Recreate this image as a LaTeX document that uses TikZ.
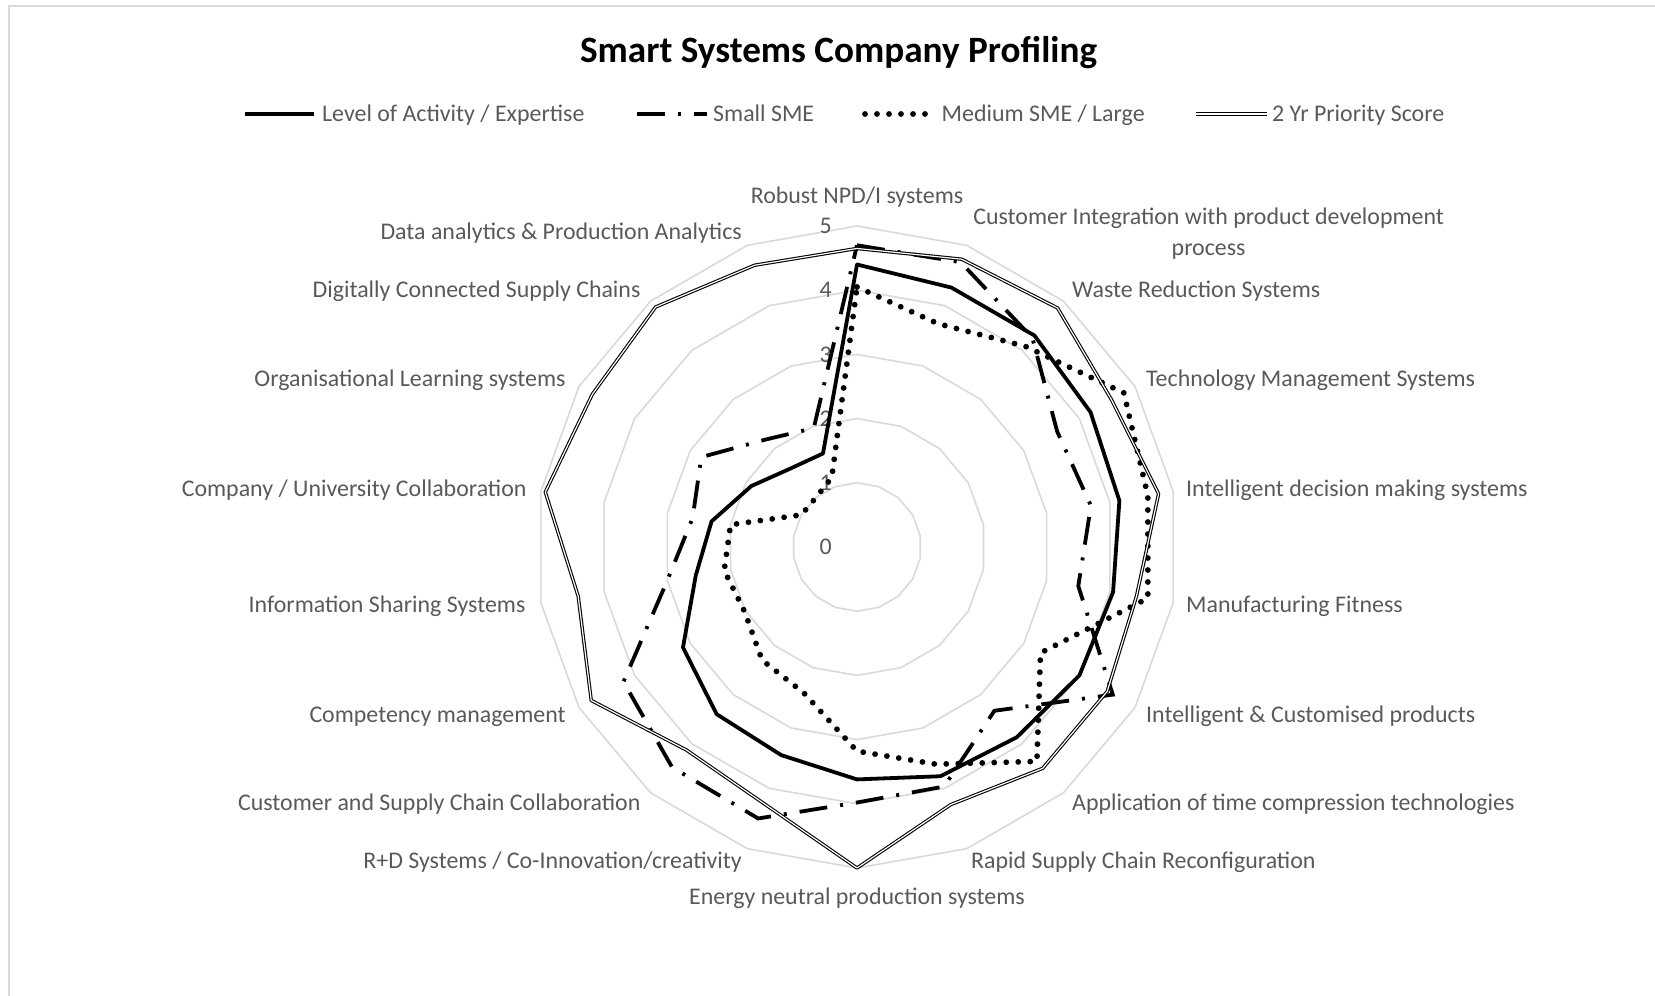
\documentclass[tikz,border=0pt]{standalone}
\usepackage{fontspec}
\setmainfont{Carlito}
\definecolor{gridgray}{HTML}{D9D9D9}
\definecolor{labelgray}{HTML}{595959}

\begin{document}
\begin{tikzpicture}[x=1pt,y=1pt,
        ring/.style={draw=gridgray,line width=1.6pt},
        activity/.style={draw=black,line width=3.8pt,line join=round},
        smallsme/.style={draw=black,line width=3.8pt,dash pattern=on 28pt off 13pt on 3pt off 13pt},
        mediumsme/.style={draw=black,line width=5.8pt,line cap=round,dash pattern=on 0pt off 12pt},
        priority/.style={draw=black,line width=1.1pt,double=white,double distance=1.2pt,line join=round}]

    \useasboundingbox (0,0) rectangle (1655,996);
    \draw[gridgray,line width=2pt] (9.3,0) -- (9.3,990) -- (1655,990);

    \node[anchor=base,inner sep=0pt,font=\bfseries\fontsize{37.2}{44}\selectfont] (title) at (838.6,933) {Smart Systems Company Profiling};

    % legend
    \begin{scope}[every node/.style={anchor=base west,inner sep=0pt,text=labelgray,font=\fontsize{23.9}{29}\selectfont}]
        \coordinate (l1a) at (245,882);  \coordinate (l1b) at (314,882);
        \coordinate (l2a) at (637,882);  \coordinate (l2b) at (707,882);
        \coordinate (l3a) at (865,882);  \coordinate (l3b) at (931,882);
        \coordinate (l4a) at (1196,882); \coordinate (l4b) at (1267,882);
        \node (t1) at (322,874.3)  {Level of Activity / Expertise};
        \node (t2) at (713,874.3)  {Small SME};
        \node (t3) at (941.5,874.3) {Medium SME / Large};
        \node (t4) at (1272,874.3) {2 Yr Priority Score};
    \end{scope}
    \path[activity]  (l1a) -- (l1b);
    \path[smallsme]  (l2a) -- (l2b);
    \path[mediumsme] (l3a) -- (l3b);
    \path[priority]  (l4a) -- (l4b);

    % axis labels
    \begin{scope}[every node/.style={inner sep=0pt,text=labelgray,font=\fontsize{23.9}{30.6}\selectfont}]
        \node[anchor=base] (c0) at (857,792) {Robust NPD/I systems};
        \node[anchor=base,align=center] (c1) at (1208.6,740.4) {Customer Integration with product development\\process};
        \node[anchor=base west] (c2) at (1072,698.3) {Waste Reduction Systems};
        \node[anchor=base west] (c3) at (1146,609.3) {Technology Management Systems};
        \node[anchor=base west] (c4) at (1186,499.3) {Intelligent decision making systems};
        \node[anchor=base west] (c5) at (1186,383.3) {Manufacturing Fitness};
        \node[anchor=base west] (c6) at (1146,273.7) {Intelligent \& Customised products};
        \node[anchor=base west] (c7) at (1072,185.3) {Application of time compression technologies};
        \node[anchor=base west] (c8) at (971,127.3) {Rapid Supply Chain Reconfiguration};
        \node[anchor=base] (c9) at (857,91.3) {Energy neutral production systems};
        \node[anchor=base east] (c10) at (742,127.3) {R+D Systems / Co-Innovation/creativity};
        \node[anchor=base east] (c11) at (640.7,185.3) {Customer and Supply Chain Collaboration};
        \node[anchor=base east] (c12) at (565.8,273.7) {Competency management};
        \node[anchor=base east] (c13) at (525.6,383.3) {Information Sharing Systems};
        \node[anchor=base east] (c14) at (526.7,499.3) {Company / University Collaboration};
        \node[anchor=base east] (c15) at (565.8,609.3) {Organisational Learning systems};
        \node[anchor=base east] (c16) at (640.7,698.3) {Digitally Connected Supply Chains};
        \node[anchor=base east] (c17) at (742,756.3) {Data analytics \& Production Analytics};
    \end{scope}

    \begin{scope}[shift={(857,449)}]
        % rings and scale
        \foreach \r in {1,...,5}
            \draw[ring] ({90}:{\r*64.2}) \foreach \k in {1,...,17} {-- ({90-20*\k}:{\r*64.2})} -- cycle;
        \foreach \t in {0,...,5}
            \node[inner sep=0pt,text=labelgray,font=\fontsize{23.9}{29}\selectfont] (n\t) at (-31.4,{\t*64.2}) {\t};

        % data points
        \foreach \v [count=\k from 0] in {4.4,4.3,4.3,4.2,4.15,4.05,4.0,3.87,3.8,3.62,3.45,3.4,3.13,2.55,2.3,1.9,1.6,1.55}
            \coordinate (a\k) at ({90-20*\k}:{\v*64.2});
        \foreach \v [count=\k from 0] in {4.7,4.72,4.25,3.6,3.7,3.5,4.6,3.33,3.97,3.98,4.5,4.48,4.2,3.0,2.6,2.8,2.19,1.97}
            \coordinate (b\k) at ({90-20*\k}:{\v*64.2});
        \foreach \v [count=\k from 0] in {4.05,3.7,4.08,4.8,4.6,4.6,3.3,4.36,3.6,3.18,2.42,2.3,2.02,2.1,2.0,1.0,1.0,1.15}
            \coordinate (m\k) at ({90-20*\k}:{\v*64.2});
        \foreach \v [count=\k from 0] in {4.65,4.77,4.86,4.58,4.77,4.42,4.5,4.5,4.27,5.0,4.25,4.13,4.78,4.41,4.93,4.76,4.88,4.67}
            \coordinate (p\k) at ({90-20*\k}:{\v*64.2});

        \path[activity]  (a0) \foreach \k in {1,...,17} {-- (a\k)} -- cycle;
        \path[smallsme]  (b0) \foreach \k in {1,...,17} {-- (b\k)} -- cycle;
        \path[mediumsme] (m0) \foreach \k in {1,...,17} {-- (m\k)} -- cycle;
        \path[priority]  (p0) \foreach \k in {1,...,17} {-- (p\k)} -- cycle;
    \end{scope}

\end{tikzpicture}
\end{document}
